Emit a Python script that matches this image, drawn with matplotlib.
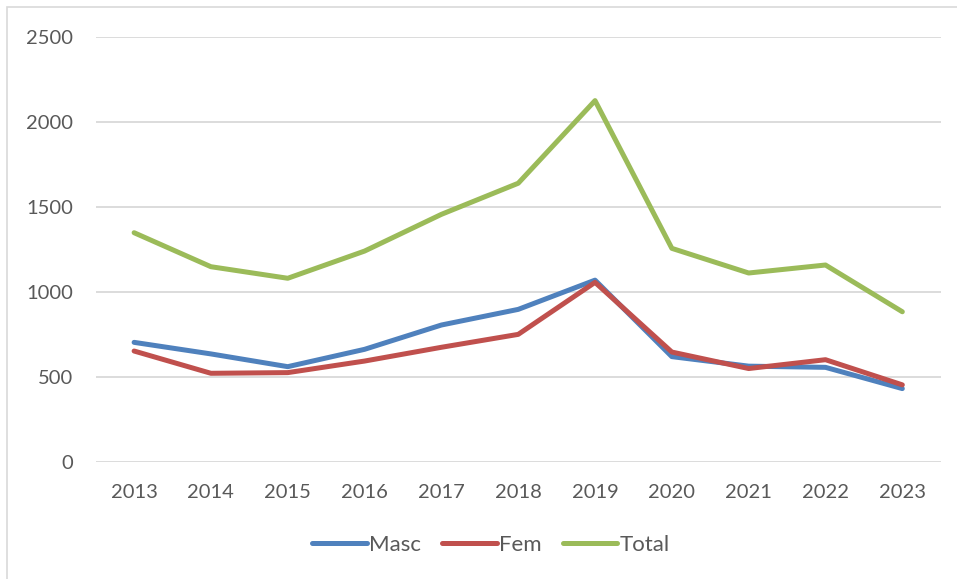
import matplotlib.pyplot as plt
from matplotlib.patches import Rectangle

plt.rcParams['font.family'] = ['Lato', 'DejaVu Sans']

# data
years = ['2013', '2014', '2015', '2016', '2017', '2018', '2019', '2020', '2021', '2022', '2023']
masc = [702, 634, 559, 661, 804, 896, 1068, 618, 562, 555, 430]
fem = [651, 520, 524, 592, 673, 749, 1055, 645, 548, 600, 452]
total = [1347, 1147, 1079, 1239, 1455, 1638, 2124, 1255, 1110, 1157, 882]

series = [('Masc', masc, '#4F81BD'), ('Fem', fem, '#C0504D'), ('Total', total, '#9BBB59')]

fig = plt.figure(figsize=(9.57, 5.79), dpi=100)
ax = fig.add_axes([0.100, 0.2026, 0.883, 0.734])

x = range(len(years))
for name, vals, col in series:
    ax.plot(x, vals, color=col, linewidth=3.6, label=name,
            solid_capstyle='round', solid_joinstyle='round')

ax.set_xlim(-0.5, len(years) - 0.5)
ax.set_ylim(0, 2500)
ax.set_yticks([0, 500, 1000, 1500, 2000, 2500])
ax.set_xticks(list(x))
ax.set_xticklabels(years)
ax.grid(axis='y', color='#D9D9D9', linewidth=1.3)
ax.set_axisbelow(True)
for s in ax.spines.values():
    s.set_visible(False)
ax.tick_params(length=0, labelsize=14.5, labelcolor='#595959')
ax.tick_params(axis='y', pad=16)
ax.tick_params(axis='x', pad=16)

leg = fig.legend(loc='center', bbox_to_anchor=(0.513, 0.0587), ncol=3, frameon=False,
                 fontsize=16, handlelength=2.45, handletextpad=0.1, columnspacing=0.95)
for t in leg.get_texts():
    t.set_color('#595959')

# light chart-area border (left and top edges visible)
fig.patches.append(Rectangle((7 / 957, -0.05), 1.1, 1.05 - 7 / 579, transform=fig.transFigure,
                             fill=False, edgecolor='#D9D9D9', linewidth=1.2))

fig.savefig('out.png', dpi=100)
